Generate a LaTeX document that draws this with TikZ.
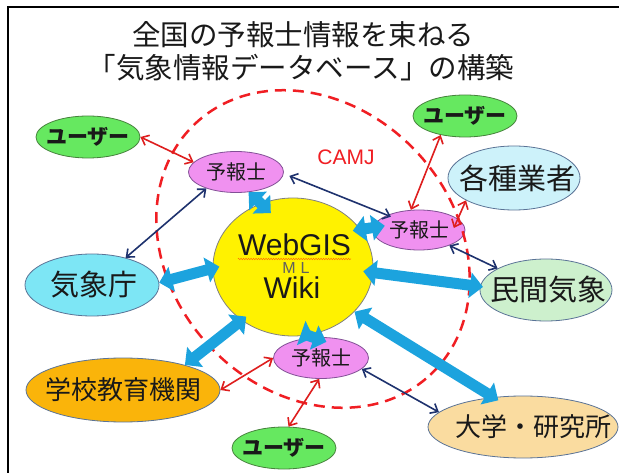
\documentclass[tikz,border=0pt]{standalone}
\usepackage{fontspec}
\newfontfamily\jp{Noto Sans CJK JP}
\newfontfamily\lat{Liberation Sans}
\usetikzlibrary{shapes.geometric,arrows.meta,decorations.pathmorphing}
\definecolor{ugreen}{RGB}{102,232,96}
\definecolor{ugreenb}{RGB}{70,130,60}
\definecolor{ypink}{RGB}{240,145,240}
\definecolor{ypinkb}{RGB}{130,80,150}
\definecolor{orgb}{RGB}{90,115,150}
\definecolor{gsfill}{RGB}{205,242,250}
\definecolor{jmafill}{RGB}{125,230,245}
\definecolor{mkfill}{RGB}{205,240,205}
\definecolor{scfill}{RGB}{250,180,10}
\definecolor{unfill}{RGB}{250,220,160}
\definecolor{cyanA}{RGB}{28,163,222}
\definecolor{navyA}{RGB}{30,50,110}
\definecolor{redA}{RGB}{222,30,30}
\definecolor{dashred}{RGB}{240,30,35}
\definecolor{txt}{RGB}{25,25,25}
\begin{document}
\begin{tikzpicture}[x=1pt,y=-1pt,
  bub/.style={ellipse, inner sep=0pt, line width=0.8pt, text=txt},
  user/.style={bub, fill=ugreen, draw=ugreenb, minimum width=104pt, minimum height=42pt, font=\jp\bfseries\fontsize{21}{21}\selectfont},
  yoho/.style={bub, fill=ypink, draw=ypinkb, minimum width=95pt, minimum height=41pt, font=\jp\fontsize{20}{20}\selectfont},
  orgn/.style={bub, draw=orgb, font=\jp\fontsize{29}{29}\selectfont},
  orgs/.style={bub, draw=orgb, font=\jp\fontsize{26}{26}\selectfont},
  blk/.style={draw=cyanA, line width=11pt, {Triangle[length=13pt,width=25pt]}-{Triangle[length=13pt,width=25pt]}},
  navyarr/.style={draw=navyA, line width=1.6pt, {Straight Barb[length=6.5pt,width=11pt]}-{Straight Barb[length=6.5pt,width=11pt]}},
  redarr/.style={draw=redA, line width=1.6pt, {Straight Barb[length=6.5pt,width=11pt]}-{Straight Barb[length=6.5pt,width=11pt]}},
  titlef/.style={font=\jp\fontsize{28.5}{28.5}\selectfont, text=txt, inner sep=0pt}
]
\useasboundingbox (0,0) rectangle (619,473);
\fill[white] (0,0) rectangle (619,473);
\draw[line width=2.2pt, line join=miter] (8,473) -- (8,7) -- (619,7);

% title
\node[titlef] (title1) at (303,35) {全国の予報士情報を束ねる};
\node[titlef] (title2) at (301,68) {「気象情報データベース」の構築};

% central database
\node[bub, fill=yellow, draw=gray, minimum width=160pt, minimum height=138pt] (db) at (293,267) {};
\node[inner sep=0pt, anchor=base, font=\lat\fontsize{30}{30}\selectfont, text=txt] (webgis) at (294.5,256) {WebGIS};
\node[inner sep=0pt, font=\lat\fontsize{16}{16}\selectfont, text=gray!75!black] (ml) at (296,268) {M\hspace{5pt}L};
\node[inner sep=0pt, anchor=base, font=\lat\fontsize{30}{30}\selectfont, text=txt] (wiki) at (292,299) {Wiki};
\draw[orange!90!red, line width=0.5pt, decorate, decoration={zigzag, amplitude=0.7pt, segment length=2.5pt}]
  ([yshift=-3pt]webgis.base west) -- ([yshift=-3pt]webgis.base east);

% users and forecasters
\node[user] (u1) at (88,137) {\makebox[0pt]{ユーザー}};
\node[user] (u2) at (465,116) {\makebox[0pt]{ユーザー}};
\node[user] (u3) at (284,448) {\makebox[0pt]{ユーザー}};
\node[yoho] (p1) at (236,172) {\makebox[0pt]{予報士}};
\node[yoho, minimum width=92pt, minimum height=40pt] (p2) at (419,230) {\makebox[0pt]{予報士}};
\node[yoho] (p3) at (321,358) {\makebox[0pt]{予報士}};

% organisations
\node[orgn, fill=gsfill, minimum width=132pt, minimum height=64pt] (gs) at (514,178) {\makebox[0pt]{\hspace*{6pt}各種業者}};
\node[orgn, fill=jmafill, minimum width=134pt, minimum height=62pt] (jma) at (92,285) {\makebox[0pt]{\hspace*{3pt}気象庁}};
\node[orgn, fill=mkfill, minimum width=132pt, minimum height=62pt] (mk) at (546,290) {\makebox[0pt]{\hspace*{4pt}民間気象}};
\node[orgs, fill=scfill, minimum width=194pt, minimum height=64pt] (sc) at (123,390) {\makebox[0pt]{学校教育機関}};
\node[orgs, fill=unfill, minimum width=190pt, minimum height=62pt] (un) at (523,427) {\makebox[0pt]{\hspace*{20pt}大学・研究所}};

% CAMJ boundary
\begin{scope}[shift={(313,249)}, rotate=-47]
  \draw[dashred, line width=2.5pt, dash pattern=on 11pt off 7pt] (0,0) ellipse [x radius=172pt, y radius=142pt];
\end{scope}
\node[text=dashred, inner sep=0pt, font=\lat\fontsize{21}{21}\selectfont] (camj) at (346,157) {CAMJ};

% thick links to the database
\draw[blk, shorten >=-14pt] (p1.-58) -- (db.117);
\draw[blk, shorten <=-8pt, shorten >=-12pt] (db.29.5) -- (p2.177);
\draw[blk, shorten >=-7pt] (jma.2) -- (db.181);
\draw[blk, shorten <=-10pt, shorten >=-3pt] (db.-4) -- (mk.177);
\draw[blk, shorten >=-6pt] (sc.22) -- (db.226);
\draw[blk, shorten <=-20pt] (db.-78.5) -- (p3.110);
\draw[blk, shorten >=-6pt] (db.-36) -- (un.135);

% thin links
\draw[navyarr] (p1.209) -- (jma.39);
\draw[navyarr, shorten <=6pt, shorten >=-4pt] (p1.-2) -- (p2.155);
\draw[navyarr] (p2.-27) -- (mk.156);
\draw[navyarr] (p3.-15) -- (un.170);
\draw[redarr] (u1.0) -- (p1.167);
\draw[redarr] (u2.218) -- (p2.112);
\draw[redarr, shorten >=-10pt] (gs.205) -- (p2.16);
\draw[redarr] (p3.180) -- (sc.0);
\draw[redarr] (p3.265) -- (u3.78);
\end{tikzpicture}
\end{document}
